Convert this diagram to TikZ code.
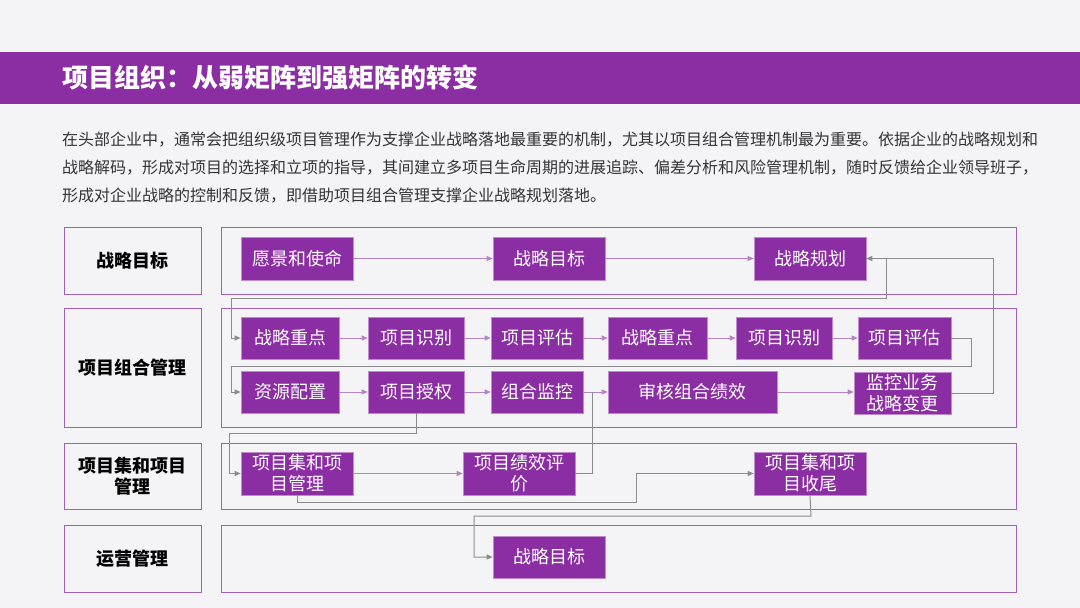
\documentclass[tikz,border=0pt]{standalone}
\usepackage{fontspec}
\setmainfont{Noto Sans CJK SC}
\usepackage{xcolor}
\usepackage{tikz}
\usetikzlibrary{arrows.meta, positioning}
\definecolor{mypurple}{HTML}{8B2DA3}
\definecolor{myframe}{HTML}{A062B8}
\definecolor{mylink}{HTML}{B584C7}
\definecolor{mygray}{HTML}{8C8C8C}
\definecolor{mybg}{HTML}{F4F4F6}
\tikzstyle{lane} = [draw=myframe, line width=1pt, inner sep=0pt]
\tikzstyle{lanelabel} = [lane, align=center, text=black, font=\bfseries\fontsize{18}{21}\selectfont, minimum width=137pt]
\tikzstyle{task} = [fill=mypurple, draw=mypurple!55!white, line width=0.6pt, text=white, align=center, inner sep=0pt, minimum height=42pt, font=\fontsize{18}{21}\selectfont]
\tikzstyle{flow} = [mylink, line width=1pt, -{Triangle[length=6pt,width=5pt]}]
\tikzstyle{feedback} = [mygray, line width=1pt, -{Triangle[length=6pt,width=5pt]}]

\begin{document}
\begin{tikzpicture}[x=1pt, y=-1pt]
\fill[mybg] (0,0) rectangle (1080,608);
\fill[mypurple] (0,52) rectangle (1080,104);
\node[anchor=west, text=white, inner sep=0pt, font=\bfseries\fontsize{26}{30}\selectfont] (title) at (62,78)
{项目组织：从弱矩阵到强矩阵的转变};

\node[anchor=north west, align=left, inner sep=0pt, text=black!80, font=\fontsize{16}{28}\selectfont] (intro) at (62,132) {
在头部企业中，通常会把组织级项目管理作为支撑企业战略落地最重要的机制，尤其以项目组合管理机制最为重要。依据企业的战略规划和\\
战略解码，形成对项目的选择和立项的指导，其间建立多项目生命周期的进展追踪、偏差分析和风险管理机制，随时反馈给企业领导班子，\\
形成对企业战略的控制和反馈，即借助项目组合管理支撑企业战略规划落地。};

% swim lanes
\node[lanelabel, minimum height=67pt] (strategyhead) at (132.5,260.5) {战略目标};
\node[lanelabel, minimum height=119pt] (portfoliohead) at (132.5,367.5) {项目组合管理};
\node[lanelabel, minimum height=66pt] (programhead) at (132.5,476) {项目集和项目\\管理};
\node[lanelabel, minimum height=67pt] (operationhead) at (132.5,558.5) {运营管理};
\node[lane, minimum width=795pt, minimum height=67pt] (strategylane) at (618.5,260.5) {};
\node[lane, minimum width=795pt, minimum height=119pt] (portfoliolane) at (618.5,367.5) {};
\node[lane, minimum width=795pt, minimum height=66pt] (programlane) at (618.5,476) {};
\node[lane, minimum width=795pt, minimum height=67pt] (operationlane) at (618.5,558.5) {};

% strategy
\node[task, minimum width=112pt, minimum height=43pt] (vision) at (297,258.5) {愿景和使命};
\node[task, minimum width=112pt, minimum height=43pt] (goal) at (549,258.5) {战略目标};
\node[task, minimum width=112pt, minimum height=43pt] (planning) at (810,258.5) {战略规划};

% portfolio
\node[task, minimum width=98pt] (focusA) at (290,338) {战略重点};
\node[task, minimum width=96pt] (identifyA) at (416,338) {项目识别};
\node[task, minimum width=92pt] (assessA) at (537,338) {项目评估};
\node[task, minimum width=99pt] (focusB) at (657.5,338) {战略重点};
\node[task, minimum width=96pt] (identifyB) at (784,338) {项目识别};
\node[task, minimum width=93pt] (assessB) at (904.5,338) {项目评估};
\node[task, minimum width=98pt] (resource) at (290,392) {资源配置};
\node[task, minimum width=96pt] (authorize) at (416,392) {项目授权};
\node[task, minimum width=92pt] (monitor) at (537,392) {组合监控};
\node[task, minimum width=169pt] (review) at (692.5,392) {审核组合绩效};
\node[task, minimum width=97pt] (change) at (902.5,393) {监控业务\\战略变更};

% program and project
\node[task, minimum width=112pt, minimum height=43pt] (program) at (297,473.5) {项目集和项\\目管理};
\node[task, minimum width=112pt, minimum height=43pt] (performance) at (519,473.5) {项目绩效评\\价};
\node[task, minimum width=112pt, minimum height=43pt] (closing) at (810,473.5) {项目集和项\\目收尾};

% operation
\node[task, minimum width=112pt] (opgoal) at (549,557) {战略目标};

\draw[flow] (vision) -- (goal);
\draw[flow] (goal) -- (planning);
\draw[flow] (focusA) -- (identifyA);
\draw[flow] (identifyA) -- (assessA);
\draw[flow] (assessA) -- (focusB);
\draw[flow] (focusB) -- (identifyB);
\draw[flow] (identifyB) -- (assessB);
\draw[flow] (resource) -- (authorize);
\draw[flow] (authorize) -- (monitor);
\draw[flow] (monitor) -- (review);
\draw[flow] (review) -- (change.west |- review.east);
\draw[flow] (program) -- (performance);

\draw[feedback] (planning.east) -- (886,258.5) -- (886,298) -- (231,298) |- (focusA.west);
\draw[feedback] (change.east) -- (993,393) |- (planning.east);
\draw[feedback] (assessB.east) -- (971,338) -- (971,366) -- (231,366) |- (resource.west);
\draw[feedback] (authorize.south) -- (416,433) -- (229,433) |- (program.west);
\draw[mygray, line width=1pt] (performance.east) -- (592,473.5) -- (592,392);
\draw[feedback] (program.south) -- (297,502) -- (636,502) |- (closing.west);
\draw[feedback] (closing.south) -- (811,516) -- (474,516) |- (opgoal.west);
\end{tikzpicture}
\end{document}
